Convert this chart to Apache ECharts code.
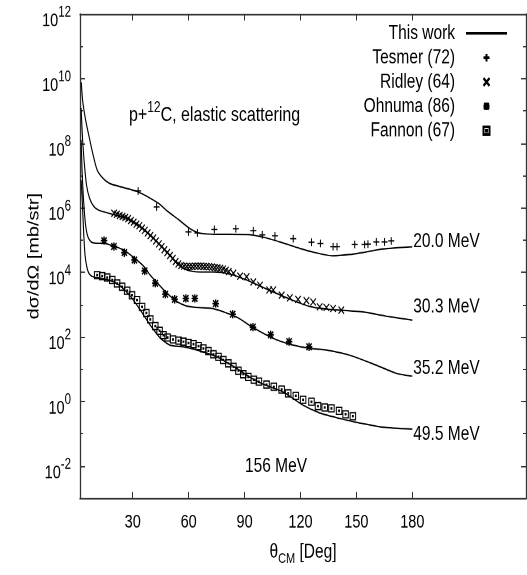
<!DOCTYPE html>
<html>
<head>
<meta charset="utf-8">
<script src="https://cdn.jsdelivr.net/npm/echarts@6/dist/echarts.min.js"></script>
<style>
  html, body { margin: 0; padding: 0; background: #fff; }
  body { width: 527px; height: 575px; }
  /* the figure is drawn with tall, narrow lettering: render at 527x449 and stretch vertically */
  #chart { width: 527px; height: 449px; transform: scaleY(1.28062); transform-origin: 0 0; }
</style>
</head>
<body>
<div id="chart"></div>
<script>
// p + 12C elastic scattering: differential cross sections (mb/str) vs CM angle (deg)
const FONT = "'Liberation Sans', Arial, Helvetica, sans-serif";

const xTickValues = [30, 60, 90, 120, 150, 180];
const yLabelDecades = [1e-2, 1, 1e2, 1e4, 1e6, 1e8, 1e10, 1e12];
const yMinorDecades = [1e-1, 1e1, 1e3, 1e5, 1e7, 1e9, 1e11];

const legendNames = ['This work', 'Tesmer (72)', 'Ridley (64)', 'Ohnuma (86)', 'Fannon (67)'];
const energyLabels = ['20.0 MeV', '30.3 MeV', '35.2 MeV', '49.5 MeV'];

// calculations ("This work"), one curve per energy: [angle, dσ/dΩ]
const theory20 = [[2.4,7.76e9],[3.1,2.14e9],[4.7,5.25e8],[6.4,1.78e8],[8.4,5.25e7],[10.9,1.48e7],[14.1,8.13e6],[17.7,5.62e6],[23.4,4.47e6],[32.9,3.09e6],[43.7,1.38e6],[48.5,7.94e5],[54.4,4.37e5],[60.8,2.24e5],[66.2,1.62e5],[73.1,1.51e5],[91.1,1.48e5],[99.9,1.23e5],[109.0,8.71e4],[119.6,5.50e4],[128.6,3.98e4],[137.3,3.24e4],[146.4,3.55e4],[155.3,4.27e4],[164.0,5.25e4],[180,6.17e4]];
const theory30 = [[2.3,1.23e9],[3.1,1.26e8],[4.1,2.09e7],[5.2,5.01e6],[6.8,2.00e6],[9.0,1.12e6],[11.6,8.51e5],[15.4,7.24e5],[20.7,5.89e5],[27.0,4.68e5],[34.1,2.57e5],[41.2,1.12e5],[48.4,4.27e4],[53.7,1.86e4],[59.1,1.17e4],[66.2,1.02e4],[73.3,1.02e4],[82.2,8.71e3],[91.1,5.75e3],[101.8,3.02e3],[114.3,1.48e3],[125.0,871],[135.7,708],[153.5,589],[166.0,437],[180,331]];
const theory35 = [[2.3,1.26e8],[2.8,1.48e7],[3.6,1.74e6],[4.7,2.88e5],[6.0,1.23e5],[7.9,8.51e4],[10.6,7.94e4],[14.5,7.94e4],[19.6,6.46e4],[25.2,4.90e4],[30.3,2.95e4],[35.8,1.55e4],[39.4,8.13e3],[43.0,4.79e3],[48.4,2.24e3],[53.7,1.23e3],[58.1,933],[62.6,832],[73.3,741],[85.8,407],[94.7,191],[105.4,89.1],[114.3,58.9],[125.0,43.7],[133.9,38.9],[146.4,26.9],[160.7,13.2],[171.4,7.41],[180,6.03]];
const theory49 = [[2.3,7.24e6],[2.9,1.74e6],[3.6,2.04e5],[4.4,3.39e4],[5.5,1.35e4],[6.8,8.71e3],[9.1,7.08e3],[14.5,6.31e3],[19.8,5.01e3],[23.4,3.72e3],[28.7,1.82e3],[34.1,676],[39.4,229],[44.8,91.2],[50.1,55.0],[57.2,49.0],[64.4,38.9],[75.1,24.0],[85.8,10.5],[92.9,5.62],[100.0,3.39],[110.7,1.95],[121.4,0.759],[130.3,0.437],[141.0,0.295],[151.7,0.214],[164.2,0.158],[180,0.138]];

// measurements
const tesmer = [[32.9,3.31e6],[42.8,1.05e6],[59.9,1.78e5],[64.7,1.66e5],[73.8,2.14e5],[85.3,2.24e5],[94.7,1.95e5],[99.5,1.45e5],[106.3,1.35e5],[116.1,1.10e5],[125.9,8.51e4],[130.7,7.76e4],[137.5,6.17e4],[139.6,6.17e4],[149.1,7.24e4],[154.4,7.24e4],[156.2,7.41e4],[160.7,8.71e4],[165.1,8.71e4],[168.7,9.33e4]];
const ridley = [[20,6.76e5],[21.5,6.31e5],[23,5.75e5],[24.5,5.37e5],[26,5.01e5],[27.5,4.57e5],[29,3.98e5],[30.5,3.55e5],[32,3.09e5],[33.5,2.75e5],[35,2.34e5],[36.5,2.00e5],[38,1.66e5],[39.5,1.38e5],[41,1.15e5],[42.5,9.33e4],[44,7.59e4],[45.5,6.17e4],[47,5.01e4],[48.5,4.07e4],[50,3.31e4],[51.5,2.69e4],[53,2.14e4],[54.5,1.82e4],[56,1.62e4],[57.5,1.55e4],[59,1.51e4],[60.5,1.51e4],[62,1.51e4],[63.5,1.55e4],[65,1.55e4],[66.5,1.55e4],[68,1.51e4],[69.5,1.51e4],[71,1.48e4],[72.5,1.45e4],[74,1.41e4],[75.5,1.38e4],[77,1.32e4],[78.5,1.26e4],[80,1.15e4],[81.5,1.05e4],[84.0,9.33e3],[87.6,7.59e3],[91.1,7.24e3],[94.7,5.01e3],[98.3,3.98e3],[103.2,2.82e3],[105.4,2.82e3],[109.9,1.95e3],[114.3,1.62e3],[118.7,1.45e3],[123.2,1.32e3],[126.8,1.20e3],[130.3,851],[133.9,813],[137.5,759],[141.9,676]];
const ohnuma = [[14.6,9.55e4],[19.9,6.31e4],[25.5,4.07e4],[30.9,2.40e4],[36.4,1.10e4],[42.1,4.57e3],[47.5,2.09e3],[52.5,1.45e3],[58.5,1.55e3],[63.3,1.55e3],[74.5,1.07e3],[83.6,501],[94.5,200],[104.0,115],[113.9,70.8],[124.6,49.0]];
const fannon = [[10.9,8.13e3],[13.6,7.59e3],[16.3,6.92e3],[19.0,5.75e3],[21.6,4.47e3],[24.3,3.55e3],[27.0,2.69e3],[29.6,1.95e3],[32.3,1.38e3],[35.0,851],[37.3,550],[39.4,347],[42.1,214],[44.4,155],[46.5,112],[48.7,95.5],[51.6,83.2],[54.6,75.9],[57.2,70.8],[59.9,64.6],[62.6,58.9],[65.3,51.3],[67.9,43.7],[70.6,36.3],[73.3,28.8],[76.0,24.0],[78.6,19.1],[81.3,15.1],[84.0,11.7],[86.7,8.91],[89.3,6.92],[92.0,5.75],[95.0,4.68],[97.7,4.07],[101.8,3.31],[105.7,2.82],[109.9,2.34],[113.4,1.78],[117.5,1.48],[121.4,1.12],[125.9,0.977],[129.4,0.708],[133.0,0.646],[136.6,0.603],[140.7,0.513],[144.2,0.398],[148.1,0.347]];

// marker shapes drawn as stroked paths
const SYM_PLUS = 'path://M0,5L10,5M5,0L5,10';
const SYM_CROSS = 'path://M0,0L10,10M10,0L0,10';
const SYM_STAR = 'path://M0,5L10,5M5,0L5,10M1,1L9,9M9,1L1,9';
const SYM_BOX = 'path://M0,0L10,0L10,10L0,10Z M4.2,4.2L5.8,4.2L5.8,5.8L4.2,5.8Z';

const INK = '#000';
const AXIS = '#333';

const theoryCurves = [theory20, theory30, theory35, theory49];
const endLabelOffsets = [[0, -4], [0, -10], [0, -6], [0, 4]];

const lineSeries = theoryCurves.map((curve, i) => ({
  name: legendNames[0],
  type: 'line',
  data: curve,
  symbol: 'none',
  smooth: 0.25,
  lineStyle: { color: INK, width: 1.1 },
  itemStyle: { color: 'transparent' },
  z: 2,
  endLabel: {
    show: true,
    formatter: energyLabels[i],
    distance: 1,
    offset: endLabelOffsets[i],
    color: INK,
    fontFamily: FONT,
    fontSize: 15.5
  }
}));

function scatterSeries(name, data, symbol, size, width) {
  return {
    name: name,
    type: 'scatter',
    data: data,
    symbol: symbol,
    symbolSize: size,
    itemStyle: { color: 'transparent', borderColor: INK, borderWidth: width, opacity: 1 },
    z: 3
  };
}

const markerSeries = [
  scatterSeries(legendNames[1], tesmer, SYM_PLUS, [6, 6], 1),
  scatterSeries(legendNames[2], ridley, SYM_CROSS, [5.5, 5.5], 1),
  scatterSeries(legendNames[3], ohnuma, SYM_STAR, [6.5, 6.5], 1.3),
  scatterSeries(legendNames[4], fannon, SYM_BOX, [5.5, 5.5], 1)
];

const decadeLabel = v => {
  const e = Math.round(Math.log10(v));
  return '{b|10}{e|' + e + '}';
};

const xAxisBase = {
  type: 'value',
  min: 1.7,
  max: 241,
  splitLine: { show: false },
  axisLine: { lineStyle: { color: AXIS, width: 1.3 } },
  axisTick: { inside: true, length: 5, customValues: xTickValues, lineStyle: { color: AXIS, width: 1 } }
};

const yAxisBase = {
  type: 'log',
  logBase: 10,
  min: 1e-3,
  max: 1e12,
  splitLine: { show: false },
  minorTick: { show: false },
  minorSplitLine: { show: false }
};

const option = {
  animation: false,
  backgroundColor: '#fff',
  textStyle: { fontFamily: FONT, color: INK },
  grid: { left: 80, right: 1, top: 11, bottom: 60 },
  title: [
    {
      text: '{a|p+}{s|12}{a|C, elastic scattering}',
      left: 129,
      top: 78,
      padding: 0,
      textStyle: {
        rich: {
          a: { fontFamily: FONT, fontSize: 16, fontWeight: 'normal', color: INK, lineHeight: 20, verticalAlign: 'bottom' },
          s: { fontFamily: FONT, fontSize: 12, fontWeight: 'normal', color: INK, lineHeight: 9, verticalAlign: 'top' }
        }
      }
    },
    {
      text: '156 MeV',
      left: 245,
      top: 356,
      padding: 0,
      textStyle: { fontFamily: FONT, fontSize: 15.5, lineHeight: 16, color: INK, fontWeight: 'normal' }
    }
  ],
  legend: {
    orient: 'vertical',
    right: 19,
    top: 18,
    padding: 0,
    align: 'right',
    itemWidth: 41,
    itemHeight: 6,
    itemGap: 3,
    selectedMode: false,
    textStyle: { fontFamily: FONT, fontSize: 15.5, color: INK, lineHeight: 15, padding: [0, 6, 0, 0] },
    data: [
      { name: legendNames[0], itemStyle: { color: 'transparent', borderWidth: 0 } },
      legendNames[1], legendNames[2], legendNames[3], legendNames[4]
    ]
  },
  xAxis: [
    Object.assign({}, xAxisBase, {
      position: 'bottom',
      axisLabel: {
        customValues: xTickValues,
        margin: 11,
        fontFamily: FONT,
        fontSize: 14.5,
        lineHeight: 16,
        color: INK
      },
      name: '{t|θ}{s|CM}{t| [Deg]}',
      nameLocation: 'middle',
      nameGap: 34,
      nameTextStyle: {
        rich: {
          t: { fontFamily: FONT, fontSize: 15.5, color: INK, lineHeight: 19, verticalAlign: 'top' },
          s: { fontFamily: FONT, fontSize: 11, color: INK, lineHeight: 11, verticalAlign: 'bottom' }
        }
      }
    }),
    Object.assign({}, xAxisBase, {
      position: 'top',
      axisLabel: { show: false }
    })
  ],
  yAxis: [
    Object.assign({}, yAxisBase, {
      position: 'left',
      axisLine: { lineStyle: { color: AXIS, width: 1.3 } },
      axisTick: { inside: true, length: 5, customValues: yLabelDecades, lineStyle: { color: AXIS } },
      axisLabel: {
        customValues: yLabelDecades,
        formatter: decadeLabel,
        margin: 9,
        padding: [6, 0, 0, 0],
        rich: {
          b: { fontFamily: FONT, fontSize: 14.5, color: INK, lineHeight: 20, verticalAlign: 'bottom' },
          e: { fontFamily: FONT, fontSize: 11.5, color: INK, lineHeight: 8, verticalAlign: 'top' }
        }
      },
      name: 'dσ/dΩ [mb/str]',
      nameLocation: 'middle',
      nameRotate: 90,
      nameGap: 38,
      nameMoveOverlap: false,
      nameTextStyle: { fontFamily: FONT, fontSize: 15.5, color: INK }
    }),
    Object.assign({}, yAxisBase, {
      position: 'right',
      axisLine: { lineStyle: { color: AXIS, width: 1.3 } },
      axisTick: { inside: true, length: 5, customValues: yLabelDecades, lineStyle: { color: AXIS } },
      axisLabel: { show: false }
    }),
    Object.assign({}, yAxisBase, {
      position: 'left',
      axisLine: { show: false },
      axisTick: { inside: true, length: 3, customValues: yMinorDecades, lineStyle: { color: AXIS } },
      axisLabel: { show: false }
    }),
    Object.assign({}, yAxisBase, {
      position: 'right',
      axisLine: { show: false },
      axisTick: { inside: true, length: 3, customValues: yMinorDecades, lineStyle: { color: AXIS } },
      axisLabel: { show: false }
    })
  ],
  series: lineSeries.concat(markerSeries)
};

const chart = echarts.init(document.getElementById('chart'), null, { renderer: 'canvas', devicePixelRatio: 2 });
chart.setOption(option);
</script>
</body>
</html>
